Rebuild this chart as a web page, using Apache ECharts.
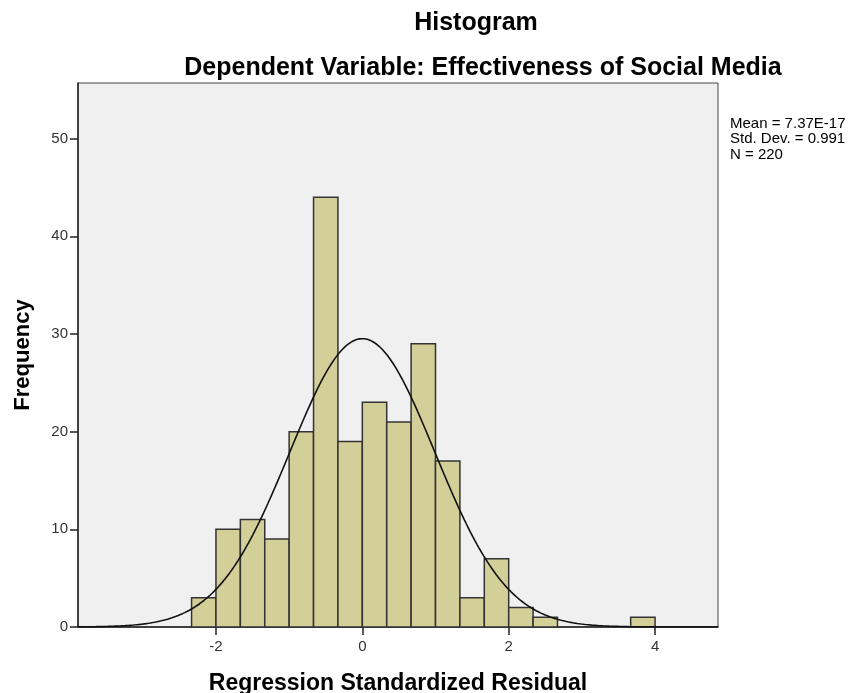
<!DOCTYPE html>
<html>
<head>
<meta charset="utf-8">
<script src="https://cdn.jsdelivr.net/npm/echarts@6/dist/echarts.min.js"></script>
<style>
  html, body { margin: 0; padding: 0; background: #fff; }
  #main { width: 858px; height: 693px; }
</style>
</head>
<body>
<div id="main"></div>
<script>
// histogram bins (width 1/3), first bin starts at -7/3
const binStart = -7 / 3;
const binWidth = 1 / 3;
const counts = [3, 10, 11, 9, 20, 44, 19, 23, 21, 29, 17, 3, 7, 2, 1, 0, 0, 0, 1];
// summary statistics shown in the legend
const stats = { mean: 7.37e-17, sd: 0.991, n: 220 };
const xTicks = [-2, 0, 2, 4];
const xMin = -3.885, xMax = 4.86;

const bars = counts.map((c, i) => [binStart + i * binWidth, binStart + (i + 1) * binWidth, c]);

// fitted normal curve from mean / sd / N
const curve = [];
const peak = stats.n * binWidth / (stats.sd * Math.sqrt(2 * Math.PI));
for (let i = 0; i <= 300; i++) {
  const x = xMin + (xMax - xMin) * i / 300;
  const z = (x - stats.mean) / stats.sd;
  curve.push([x, peak * Math.exp(-0.5 * z * z)]);
}

const chart = echarts.init(document.getElementById('main'));
const font = 'Liberation Sans, Arial, sans-serif';

chart.setOption({
  animation: false,
  title: [
    { text: 'Histogram', left: 471, textAlign: 'center', top: 6,
      textStyle: { fontFamily: font, fontSize: 25, fontWeight: 'bold', color: '#000' } },
    { text: 'Dependent Variable: Effectiveness of Social Media', left: 478, textAlign: 'center', top: 51,
      textStyle: { fontFamily: font, fontSize: 25, fontWeight: 'bold', color: '#000' } }
  ],
  graphic: [{
    type: 'text', left: 730, top: 116,
    style: {
      text: 'Mean = 7.37E-17\nStd. Dev. = 0.991\nN = 220',
      font: '15px ' + font, fill: '#000', lineHeight: 15.5
    }
  }],
  grid: {
    left: 78, right: 140, top: 83, bottom: 66,
    outerBoundsMode: 'none', containLabel: false,
    show: true, backgroundColor: '#f0f0f0', borderColor: '#444', borderWidth: 1
  },
  xAxis: {
    type: 'value', min: xMin, max: xMax,
    name: 'Regression Standardized Residual', nameLocation: 'middle', nameGap: 45,
    nameTextStyle: { fontFamily: font, fontSize: 23, fontWeight: 'bold', color: '#000' },
    axisLine: { show: true, onZero: false, lineStyle: { color: '#222', width: 1.5 } },
    axisTick: { show: true, length: 8, customValues: xTicks, lineStyle: { color: '#222', width: 1.5 } },
    axisLabel: { customValues: xTicks, fontFamily: font, fontSize: 15, color: '#333', margin: 12 },
    splitLine: { show: false }
  },
  yAxis: {
    type: 'value', min: 0, max: 55.7, interval: 10,
    name: 'Frequency', nameLocation: 'middle', nameGap: 44,
    nameTextStyle: { fontFamily: font, fontSize: 22, fontWeight: 'bold', color: '#000' },
    axisLine: { show: true, onZero: false, lineStyle: { color: '#222', width: 1.5 } },
    axisTick: { show: true, length: 8, lineStyle: { color: '#222', width: 1.5 } },
    axisLabel: { fontFamily: font, fontSize: 15, color: '#333', margin: 10,
      showMaxLabel: false },
    splitLine: { show: false }
  },
  series: [
    {
      type: 'custom',
      data: bars,
      renderItem: function (params, api) {
        const p0 = api.coord([api.value(0), api.value(2)]);
        const p1 = api.coord([api.value(1), 0]);
        if (api.value(2) <= 0) return null;
        return {
          type: 'rect',
          shape: { x: p0[0], y: p0[1], width: p1[0] - p0[0], height: p1[1] - p0[1] },
          style: { fill: '#d3cf98', stroke: '#333', lineWidth: 1.5 }
        };
      },
      encode: { x: [0, 1], y: 2 },
      z: 2
    },
    {
      type: 'line',
      data: curve,
      showSymbol: false,
      smooth: false,
      lineStyle: { color: '#111', width: 1.6 },
      z: 3
    }
  ]
});
</script>
</body>
</html>
